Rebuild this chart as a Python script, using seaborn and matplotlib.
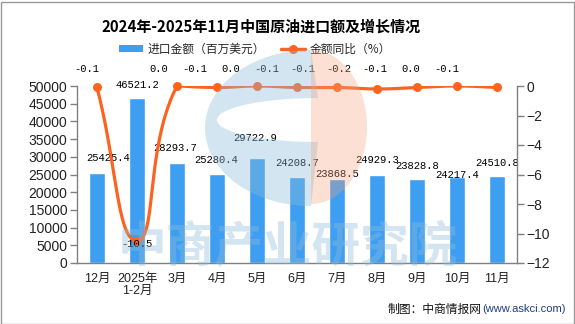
import numpy as np
import matplotlib
matplotlib.use("Agg")
import matplotlib.pyplot as plt
import seaborn as sns
from matplotlib.patches import Patch, Rectangle, PathPatch
from matplotlib.lines import Line2D
from matplotlib.path import Path

# ---------------- data ----------------
categories = ["12月", "2025年\n1-2月", "3月", "4月", "5月", "6月", "7月", "8月", "9月", "10月", "11月"]
import_value = [25425.4, 46521.2, 28293.7, 25280.4, 29722.9, 24208.7, 23868.5, 24929.3, 23828.8, 24217.4, 24510.8]
yoy_growth = [-0.1, -10.5, 0.0, -0.1, 0.0, -0.1, -0.1, -0.2, -0.1, 0.0, -0.1]
left_ticks = list(range(0, 50001, 5000))
right_ticks = [0, -2, -4, -6, -8, -10, -12]

title = "2024年-2025年11月中国原油进口额及增长情况"
bar_name = "进口金额（百万美元）"
line_name = "金额同比（%）"

BAR_C = "#3e9ef2"
LINE_C = "#fa6420"
AX_C = "#808080"

sns.set_theme(style="white")
plt.rcParams['font.family'] = ['Liberation Sans', 'Noto Sans CJK SC']
plt.rcParams['axes.unicode_minus'] = True

W, H = 575, 324
fig = plt.figure(figsize=(W / 100, H / 100), dpi=100)
fig.patch.set_facecolor("white")

L, R, T, B = 77, 517, 86, 263
ax = fig.add_axes([L / W, 1 - B / H, (R - L) / W, (B - T) / H])
ax.set_facecolor("none")

df_x = list(range(len(categories)))
sns.barplot(x=df_x, y=import_value, ax=ax, color=BAR_C, saturation=1, width=0.4, zorder=2)
ax.set_xlim(-0.5, len(categories) - 0.5)
ax.set_ylim(0, 50000)
ax.set_yticks(left_ticks)
ax.set_yticklabels([str(v) for v in left_ticks])
ax.set_xticks(df_x)
ax.set_xticklabels(categories, family=['Liberation Sans', 'Noto Sans CJK SC'], fontsize=9, linespacing=1.05)
ax.set_xticks(np.arange(-0.5, len(categories), 1.0), minor=True)
ax.tick_params(axis='x', which='major', length=0, pad=7, colors='#222222')
ax.tick_params(axis='x', which='minor', length=5, width=1, color=AX_C, direction='out')
ax.tick_params(axis='y', length=5, width=1, color=AX_C, direction='out', labelsize=10, labelcolor='#222222', pad=2)
ax.set_xlabel("")
ax.set_ylabel("")
for s in ["top", "right"]:
    ax.spines[s].set_visible(False)
for s in ["left", "bottom"]:
    ax.spines[s].set_color(AX_C)
    ax.spines[s].set_linewidth(1)
ax.grid(False)

# bar labels
bar_dx = [11, 0, -2, -1, -2, 0, 0, 0, 0, 0, 0]
bar_dy = [15, 13, 15, 14, 20, 14, 5, 15, 13, 2, 13]
for i, v in enumerate(import_value):
    ax.annotate(f"{v:.1f}", xy=(i, v), xytext=(bar_dx[i], bar_dy[i]), textcoords='offset pixels',
                ha='center', va='center', fontsize=7.6, family=['Liberation Mono'], color='black', zorder=6)

# line on twin axis
ax2 = ax.twinx()
ax2.set_ylim(-12, 0)
ax2.set_yticks(right_ticks)
ax2.tick_params(axis='y', length=5, width=1, color=AX_C, direction='out', labelsize=10, labelcolor='#222222', pad=2)
for s in ["top", "left", "bottom"]:
    ax2.spines[s].set_visible(False)
ax2.spines["right"].set_color(AX_C)
ax2.spines["right"].set_linewidth(1)
ax2.grid(False)


def smooth_curve(xs, ys, smooth=0.5, sx=40.0, sy=(B - T) / 12.0, n=40):
    pts = np.column_stack([np.asarray(xs, float) * sx, np.asarray(ys, float) * sy])
    N = len(pts)
    cin, cout = [], []
    for i in range(N):
        p = pts[i]
        prv = pts[i - 1] if i > 0 else p
        nxt = pts[i + 1] if i < N - 1 else p
        v = nxt - prv
        d0 = np.linalg.norm(p - prv)
        d1 = np.linalg.norm(nxt - p)
        tot = d0 + d1
        rn = d1 / tot if tot else 0
        rp = d0 / tot if tot else 0
        co = p + v * smooth * rn
        ci = p - v * smooth * rp
        co = np.clip(co, np.minimum(p, nxt), np.maximum(p, nxt))
        ci = np.clip(ci, np.minimum(prv, p), np.maximum(prv, p))
        cin.append(ci)
        cout.append(co)
    out = [pts[0]]
    t = np.linspace(0, 1, n)[1:, None]
    for i in range(N - 1):
        P0, P1, P2, P3 = pts[i], cout[i], cin[i + 1], pts[i + 1]
        seg = (1 - t) ** 3 * P0 + 3 * (1 - t) ** 2 * t * P1 + 3 * (1 - t) * t ** 2 * P2 + t ** 3 * P3
        out.extend(seg)
    out = np.array(out)
    return out[:, 0] / sx, out[:, 1] / sy


cx, cy = smooth_curve(df_x, yoy_growth)
sns.lineplot(x=cx, y=cy, ax=ax2, color=LINE_C, linewidth=2.3, sort=False, estimator=None, zorder=4)
sns.scatterplot(x=df_x, y=yoy_growth, ax=ax2, color=LINE_C, s=42, edgecolor=LINE_C, linewidth=0, zorder=5, clip_on=False)
ax2.set_xlim(-0.5, len(categories) - 0.5)
ax2.set_ylabel("")

# line labels
from matplotlib.transforms import blended_transform_factory
btr = blended_transform_factory(ax2.transData, ax2.transAxes)
for i, v in enumerate(yoy_growth):
    if v < -5:
        ax2.annotate(f"{v:.1f}", xy=(i, v), xytext=(0, -3), textcoords='offset pixels', ha='center', va='center',
                     fontsize=7.6, family=['Liberation Mono'], color='black', zorder=6)
    else:
        ax2.text(i * 0.9 - 0.25, 1 + 17 / (B - T), f"{v:.1f}", transform=btr, ha='center', va='center',
                 fontsize=7.6, family=['Liberation Mono'], color='black', zorder=6, clip_on=False)

# title
fig.text(261 / W, 1 - 27 / H, title, ha='center', va='center', fontsize=10.8, fontweight='bold',
         family=['Noto Sans CJK SC'], color='black')

# legend
handles = [Patch(facecolor=BAR_C, edgecolor='none', label=bar_name),
           Line2D([], [], color=LINE_C, lw=2.5, marker='o', ms=5.5, label=line_name)]
fig.legend(handles=handles, loc='center', bbox_to_anchor=(255 / W, 1 - 49 / H), ncol=2, frameon=False,
           prop={'family': ['Noto Sans CJK SC'], 'size': 8.5}, handlelength=2.0, handleheight=0.6,
           handletextpad=0.4, columnspacing=1.4, borderaxespad=0, borderpad=0)

# source
fig.text(482 / W, 1 - 309 / H, "制图：中商情报网", ha='right', va='center', fontsize=8.5,
         family=['Noto Sans CJK SC'], color='#111111')
fig.text(482 / W, 1 - 309 / H, "(www.askci.com)", ha='left', va='center', fontsize=8,
         family=['Liberation Sans'], color='#1f3c88')

# watermark overlay (pixel coordinates)
wax = fig.add_axes([0, 0, 1, 1], zorder=10)
wax.set_xlim(0, W)
wax.set_ylim(H, 0)
wax.axis('off')
wax.patch.set_alpha(0)

th = np.linspace(0, np.pi, 80)
ocx, ocy, orx, ory = 311, 128, 106, 78
icx, icy, irx, iry = 318, 120, 101, 22
outer = np.column_stack([ocx - orx * np.sin(th), ocy - ory * np.cos(th)])
inner = np.column_stack([icx - irx * np.sin(th[::-1]), icy - iry * np.cos(th[::-1])])
poly = np.vstack([outer, inner, outer[:1]])
wax.add_patch(PathPatch(Path(poly, closed=True), facecolor='#8dbbd8', edgecolor='none', alpha=0.38))

oth = np.linspace(0, np.pi, 80)
orng = np.column_stack([311 + 56 * np.sin(oth), 127 - 77 * np.cos(oth)])
wax.add_patch(PathPatch(Path(np.vstack([orng, orng[:1]]), closed=True), facecolor='#f5a27c',
                        edgecolor='none', alpha=0.33))

wax.text(288, 248, "中商产业研究院", ha='center', va='center', fontsize=35, fontweight='bold',
         family=['Noto Sans CJK SC'], color='#8dbbd8', alpha=0.38)

# frame
fig.patches.append(Rectangle((0.5 / W, 0.5 / H), (W - 2) / W, (H - 2) / H, transform=fig.transFigure,
                             fill=False, edgecolor='#999999', lw=1))

fig.savefig("out.png", dpi=100)
